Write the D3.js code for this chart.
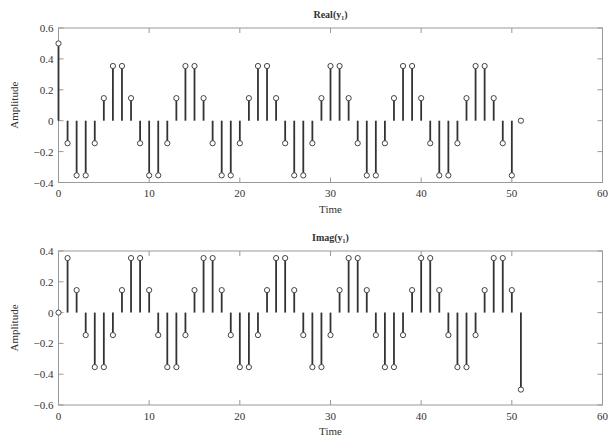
<!DOCTYPE html>
<html><head><meta charset="utf-8">
<script src="https://cdn.jsdelivr.net/npm/d3@7"></script>
<style>body{margin:0;background:#fff}svg{display:block}text{font-family:"Liberation Serif","Times New Roman",serif;fill:#333}</style>
</head><body><svg id="c" width="611" height="439"></svg>
<script>
const timeIdx = d3.range(0, 52);
const realVals = [0.5,-0.146,-0.354,-0.354,-0.146,0.146,0.354,0.354,0.146,-0.146,-0.354,-0.354,-0.146,0.146,0.354,0.354,0.146,-0.146,-0.354,-0.354,-0.146,0.146,0.354,0.354,0.146,-0.146,-0.354,-0.354,-0.146,0.146,0.354,0.354,0.146,-0.146,-0.354,-0.354,-0.146,0.146,0.354,0.354,0.146,-0.146,-0.354,-0.354,-0.146,0.146,0.354,0.354,0.146,-0.146,-0.354,0];
const imagVals = [0,0.354,0.146,-0.146,-0.354,-0.354,-0.146,0.146,0.354,0.354,0.146,-0.146,-0.354,-0.354,-0.146,0.146,0.354,0.354,0.146,-0.146,-0.354,-0.354,-0.146,0.146,0.354,0.354,0.146,-0.146,-0.354,-0.354,-0.146,0.146,0.354,0.354,0.146,-0.146,-0.354,-0.354,-0.146,0.146,0.354,0.354,0.146,-0.146,-0.354,-0.354,-0.146,0.146,0.354,0.354,0.146,-0.5];
const xTicks = [0,10,20,30,40,50,60];
const realYTicks = [-0.4,-0.2,0,0.2,0.4,0.6];
const imagYTicks = [-0.6,-0.4,-0.2,0,0.2,0.4];
const titles = ["Real(y\u2081)", "Imag(y\u2081)"];

const svg = d3.select("#c");
const fmt = v => v === 0 ? "0" : d3.format(".1f")(v).replace("-", "\u2212");

function panel(top, bottom, yDomain, yTicks, vals, title) {
  const x = d3.scaleLinear().domain([0,60]).range([58.5, 602.5]);
  const y = d3.scaleLinear().domain(yDomain).range([bottom, top]);
  const g = svg.append("g");
  const axC = "#999";
  g.append("rect").attr("x", x(0)).attr("y", y(yDomain[1])).attr("width", x(60)-x(0)).attr("height", y(yDomain[0])-y(yDomain[1]))
    .attr("fill","none").attr("stroke",axC).attr("stroke-width",1);
  const tl = 5;
  xTicks.forEach(t => {
    g.append("line").attr("x1",x(t)).attr("x2",x(t)).attr("y1",bottom).attr("y2",bottom-tl).attr("stroke",axC);
    g.append("line").attr("x1",x(t)).attr("x2",x(t)).attr("y1",top).attr("y2",top+tl).attr("stroke",axC);
    g.append("text").attr("x",x(t)).attr("y",bottom+14.5).attr("text-anchor","middle").attr("font-size",11).text(t);
  });
  yTicks.forEach(t => {
    g.append("line").attr("x1",x(0)).attr("x2",x(0)+tl).attr("y1",y(t)).attr("y2",y(t)).attr("stroke",axC);
    g.append("line").attr("x1",x(60)).attr("x2",x(60)-tl).attr("y1",y(t)).attr("y2",y(t)).attr("stroke",axC);
    g.append("text").attr("x",x(0)-5).attr("y",y(t)+4).attr("text-anchor","end").attr("font-size",11).text(fmt(t));
  });
  const data = timeIdx.map((t,i)=>({t, v: vals[i]}));
  g.selectAll("line.stem").data(data).enter().append("line").attr("class","stem")
    .attr("x1",d=>x(d.t)).attr("x2",d=>x(d.t)).attr("y1",y(0)).attr("y2",d=>y(d.v))
    .attr("stroke","#333").attr("stroke-width",1.8);
  g.selectAll("circle").data(data).enter().append("circle")
    .attr("cx",d=>x(d.t)).attr("cy",d=>y(d.v)).attr("r",2.6)
    .attr("fill","#fff").attr("stroke","#444").attr("stroke-width",1);
  g.append("text").attr("x",(x(0)+x(60))/2).attr("y",top-10).attr("text-anchor","middle").attr("font-size",10).attr("font-weight","bold").text(title);
  g.append("text").attr("x",(x(0)+x(60))/2).attr("y",bottom+30).attr("text-anchor","middle").attr("font-size",11).text("Time");
  g.append("text").attr("transform",`translate(18,${(top+bottom)/2}) rotate(-90)`).attr("text-anchor","middle").attr("font-size",11).text("Amplitude");
}
panel(28, 182.5, [-0.4,0.6], realYTicks, realVals, titles[0]);
panel(251, 405, [-0.6,0.4], imagYTicks, imagVals, titles[1]);
</script></body></html>
